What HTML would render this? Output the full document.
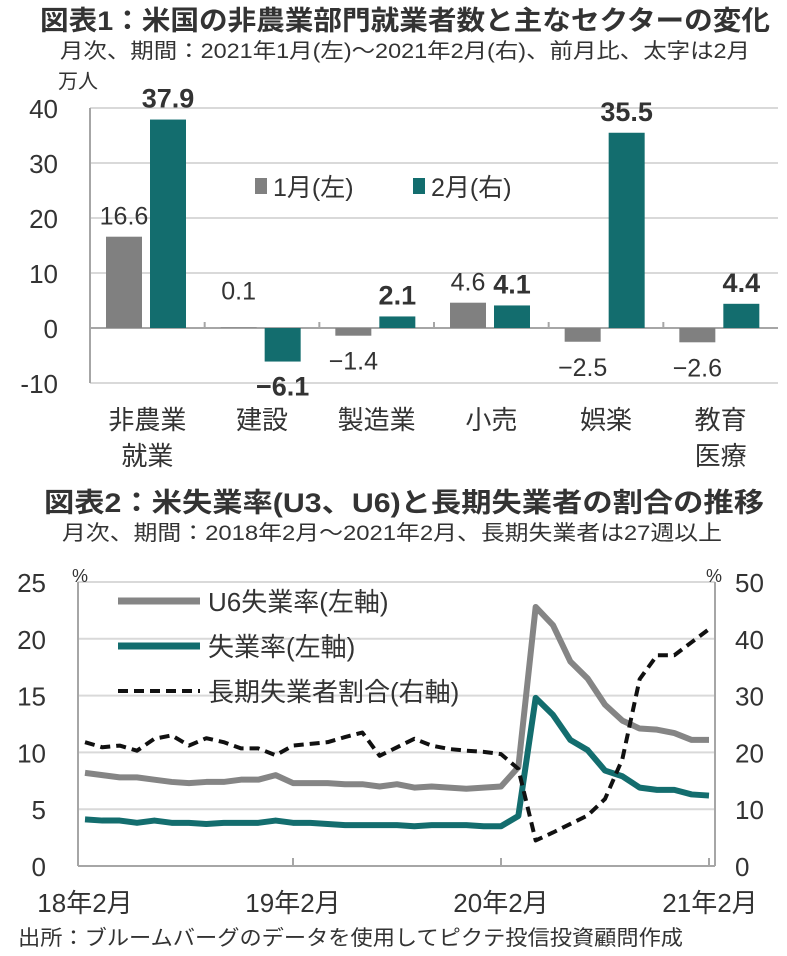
<!DOCTYPE html>
<html><head><meta charset="utf-8"><style>
body{margin:0;background:#fff;width:787px;height:951px;overflow:hidden;font-family:"Liberation Sans","Noto Sans CJK JP",sans-serif;}
svg text{font-family:"Liberation Sans","Noto Sans CJK JP",sans-serif;fill:#333;}
</style></head><body>
<svg id="s" width="787" height="951" xmlns="http://www.w3.org/2000/svg">
<text x="40" y="30" font-size="27" font-weight="bold" textLength="730" lengthAdjust="spacingAndGlyphs">図表1：米国の非農業部門就業者数と主なセクターの変化</text>
<text x="60" y="58" font-size="21" textLength="690" lengthAdjust="spacingAndGlyphs">月次、期間：2021年1月(左)～2021年2月(右)、前月比、太字は2月</text>
<text x="58" y="88" font-size="20">万人</text>
<g id="c1"></g>
<text x="44" y="512" font-size="27" font-weight="bold" textLength="720" lengthAdjust="spacingAndGlyphs">図表2：米失業率(U3、U6)と長期失業者の割合の推移</text>
<text x="62" y="540" font-size="21" textLength="660" lengthAdjust="spacingAndGlyphs">月次、期間：2018年2月～2021年2月、長期失業者は27週以上</text>
<g id="c2"></g>
<text x="18" y="945" font-size="21" textLength="665" lengthAdjust="spacingAndGlyphs">出所：ブルームバーグのデータを使用してピクテ投信投資顧問作成</text>
</svg>
<script>
const cats1=["非農業|就業","建設","製造業","小売","娯楽","教育|医療"];
const jan=[16.6,0.1,-1.4,4.6,-2.5,-2.6];
const feb=[37.9,-6.1,2.1,4.1,35.5,4.4];
const yTicks1=[40,30,20,10,0,-10];

const months=["18年2月","19年2月","20年2月","21年2月"];
const u6=[8.2,8.0,7.8,7.8,7.6,7.4,7.3,7.4,7.4,7.6,7.6,8.0,7.3,7.3,7.3,7.2,7.2,7.0,7.2,6.9,7.0,6.9,6.8,6.9,7.0,8.7,22.8,21.2,18.0,16.5,14.2,12.8,12.1,12.0,11.7,11.1,11.1];
const u3=[4.1,4.0,4.0,3.8,4.0,3.8,3.8,3.7,3.8,3.8,3.8,4.0,3.8,3.8,3.7,3.6,3.6,3.6,3.6,3.5,3.6,3.6,3.6,3.5,3.5,4.4,14.8,13.3,11.1,10.2,8.4,7.9,6.9,6.7,6.7,6.3,6.2];
const lt=[21.8,20.9,21.2,20.3,22.4,23.0,21.2,22.5,21.8,20.7,20.7,19.5,21.2,21.5,21.8,22.7,23.5,19.4,20.9,22.4,21.2,20.6,20.3,20.1,19.7,17.1,4.5,5.9,7.4,8.9,11.8,18.8,32.9,37.1,37.1,39.4,41.7];
const yTicksL=[0,5,10,15,20,25];
const yTicksR=[0,10,20,30,40,50];

const NS="http://www.w3.org/2000/svg";
function mk(p,tag,a,txt){const e=document.createElementNS(NS,tag);for(const k in a)e.setAttribute(k,a[k]);if(txt!=null)e.textContent=txt;p.appendChild(e);return e;}

// chart 1
const c1=document.getElementById('c1');
const X0=90,X1=778,cw=(X1-X0)/cats1.length;
const y1=v=>328-v*5.5;
yTicks1.forEach(t=>{
  const l=mk(c1,'line',{x1:X0,x2:X1,y1:y1(t),y2:y1(t),stroke:t==0?'#a6a6a6':'#d9d9d9','stroke-width':2});
  
  
  const tx=mk(c1,'text',{x:58,y:y1(t)+10,'font-size':26,'text-anchor':'end'},t);
  
  
});
mk(c1,'line',{x1:X0,x2:X0,y1:y1(40),y2:y1(-10),stroke:'#a6a6a6','stroke-width':2});
cats1.forEach((c,i)=>{
  const cx=X0+i*cw;
  if(i>0){mk(c1,'line',{x1:cx,x2:cx,y1:y1(0),y2:y1(0)-6,stroke:'#a6a6a6','stroke-width':2});}
  [[jan[i],16,'#808080',false],[feb[i],60,'#136d6e',true]].forEach(([v,off,col,bold])=>{
    const r=mk(c1,'rect',{x:cx+off,width:36,y:Math.min(y1(v),y1(0)),height:Math.abs(y1(v)-y1(0)),fill:col});
    
    
    const ly=v>=0?Math.min(y1(v),y1(0))-12:y1(v)+34;
    const t=mk(c1,'text',{x:cx+off+18,y:(v>=0&&v<1)?ly-16:ly,'font-size':bold?27:25,'font-weight':bold?'bold':'normal','text-anchor':'middle',fill:bold?'#222':'#444'},(v<0?'−':'')+Math.abs(v).toFixed(1));
    
    
  });
  c.split('|').forEach((s,j)=>{
    const t=mk(c1,'text',{x:cx+cw/2,y:429+j*36,'font-size':26,'text-anchor':'middle'},s);
    
    
  });
});
[['1月(左)','#808080',255],['2月(右)','#136d6e',413]].forEach(([s,c,x])=>{
  const r=mk(c1,'rect',{x:x,y:178,width:12,height:16,fill:c});
  
  
  const t=mk(c1,'text',{x:x+18,y:196,'font-size':25},s);
  
  
});

// chart 2
const c2=document.getElementById('c2');
const L=78,R=715;
const xi=i=>85+i*(709-85)/36;
const yl=v=>866-v*11.36;
const yr=v=>866-v*5.68;
yTicksL.forEach(t=>{
  if(t>0){const l=mk(c2,'line',{x1:L,x2:R,y1:yl(t),y2:yl(t),stroke:'#d9d9d9','stroke-width':2});
  
  }
  const a=mk(c2,'text',{x:46,y:yl(t)+10,'font-size':26,'text-anchor':'end'},t);
  
  
});
yTicksR.forEach(t=>{
  const b=mk(c2,'text',{x:735,y:yr(t)+10,'font-size':26},t);
  
  
});
mk(c2,'text',{x:72,y:582,'font-size':18},'%');
mk(c2,'text',{x:706,y:582,'font-size':18},'%');
mk(c2,'line',{x1:L,x2:R,y1:866,y2:866,stroke:'#a6a6a6','stroke-width':2});
mk(c2,'line',{x1:L,x2:L,y1:582,y2:866,stroke:'#a6a6a6','stroke-width':2});
mk(c2,'line',{x1:R,x2:R,y1:582,y2:866,stroke:'#a6a6a6','stroke-width':2});
months.forEach((m,k)=>{
  const x=xi(k*12);
  if(k>0){mk(c2,'line',{x1:x,x2:x,y1:866,y2:858,stroke:'#a6a6a6','stroke-width':2});}
  const t=mk(c2,'text',{x:k==0?85:(k==3?710:x),y:912,'font-size':26,'text-anchor':'middle'},m);
  
  
});
function line(d,yf,col,dash,name){
  const p=mk(c2,'polyline',{points:d.map((v,i)=>xi(i)+','+yf(v)).join(' '),fill:'none',stroke:col,'stroke-width':dash?4:6,'stroke-linejoin':'round','stroke-dasharray':dash?'10,6':'none'});
  
  
}
line(u6,yl,'#858585',false,'line-u6');
line(u3,yl,'#136d6e',false,'line-u3');
line(lt,yr,'#111',true,'line-long-term-share');
[['U6失業率(左軸)','#858585',false,601],['失業率(左軸)','#136d6e',false,646],['長期失業者割合(右軸)','#111',true,691]].forEach(([s,c,d,y])=>{
  const l=mk(c2,'line',{x1:118,x2:200,y1:y,y2:y,stroke:c,'stroke-width':d?4:7,'stroke-dasharray':d?'10,6':'none'});
  
  
  const t=mk(c2,'text',{x:208,y:y+10,'font-size':26},s);
  
  
});
</script>
</body></html>
